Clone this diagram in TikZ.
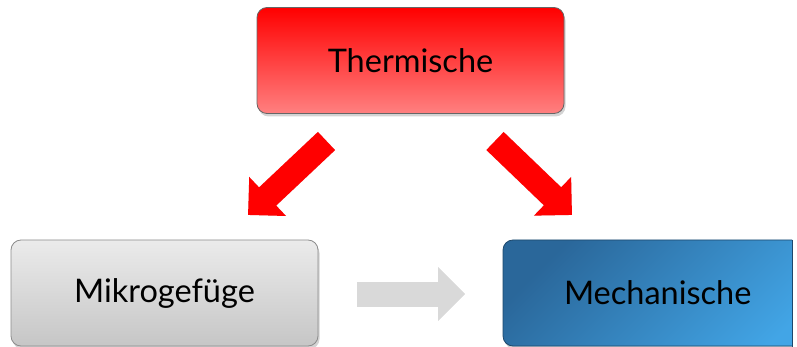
\documentclass[tikz,border=0pt]{standalone}
\usepackage{fontspec}
\setmainfont{Lato}
\usetikzlibrary{arrows.meta,shadows}
\definecolor{redtop}{HTML}{FF0000}
\definecolor{redbot}{HTML}{FF8080}
\definecolor{graytop}{HTML}{EBEBEB}
\definecolor{graybot}{HTML}{C6C6C6}
\definecolor{bluetl}{HTML}{2A679A}
\definecolor{bluebr}{HTML}{42A5E6}
\definecolor{arrowgray}{HTML}{D9D9D9}
\tikzset{
  box/.style={rounded corners=10pt, minimum width=307pt, minimum height=106pt,
    line width=0.8pt, font=\fontsize{32.5}{38}\selectfont, text=black,
    drop shadow={shadow xshift=1.5pt, shadow yshift=-3pt, opacity=0.35}},
  blockarrow/.style={line width=25pt, -{Triangle[length=27pt,width=52pt]}},
  arrowshadow/.style={line width=25pt, -{Triangle[length=27pt,width=52pt]}, black, opacity=0.15}
}
\begin{document}
\begin{tikzpicture}[x=1pt,y=-1pt]
\useasboundingbox (0,0) rectangle (797,347);
\begin{scope}
\clip (0,0) rectangle (792,347);
\node[box, draw=black!60, top color=redtop, bottom color=redbot] (T) at (410.5,60.5) {Thermische};
\node[box, draw=black!45, top color=graytop, bottom color=graybot] (L) at (164.5,293) {Mikrogefüge};
\node[box, draw=bluetl!70!black, minimum width=330pt, top color=bluetl, bottom color=bluebr, shading angle=45, text width=290pt, align=left] (R) at (668,293) {\hspace*{41pt}Mechanische};
\end{scope}
\draw[draw=bluetl!70!black, line width=0.8pt] (792,240) -- (792,347);
% connectors
\coordinate (a1s) at (326.5,141);
\coordinate (a1e) at (248,215);
\coordinate (a2s) at (495,141);
\coordinate (a2e) at (572,215);
\coordinate (a3s) at (357,294);
\coordinate (a3e) at (465,294);
\begin{scope}[shift={(2,3)}]
\draw[arrowshadow] (a1s) -- (a1e);
\draw[arrowshadow] (a2s) -- (a2e);
\draw[arrowshadow] (a3s) -- (a3e);
\end{scope}
\draw[blockarrow, red] (a1s) -- (a1e);
\draw[blockarrow, red] (a2s) -- (a2e);
\draw[blockarrow, arrowgray] (a3s) -- (a3e);
\end{tikzpicture}
\end{document}
